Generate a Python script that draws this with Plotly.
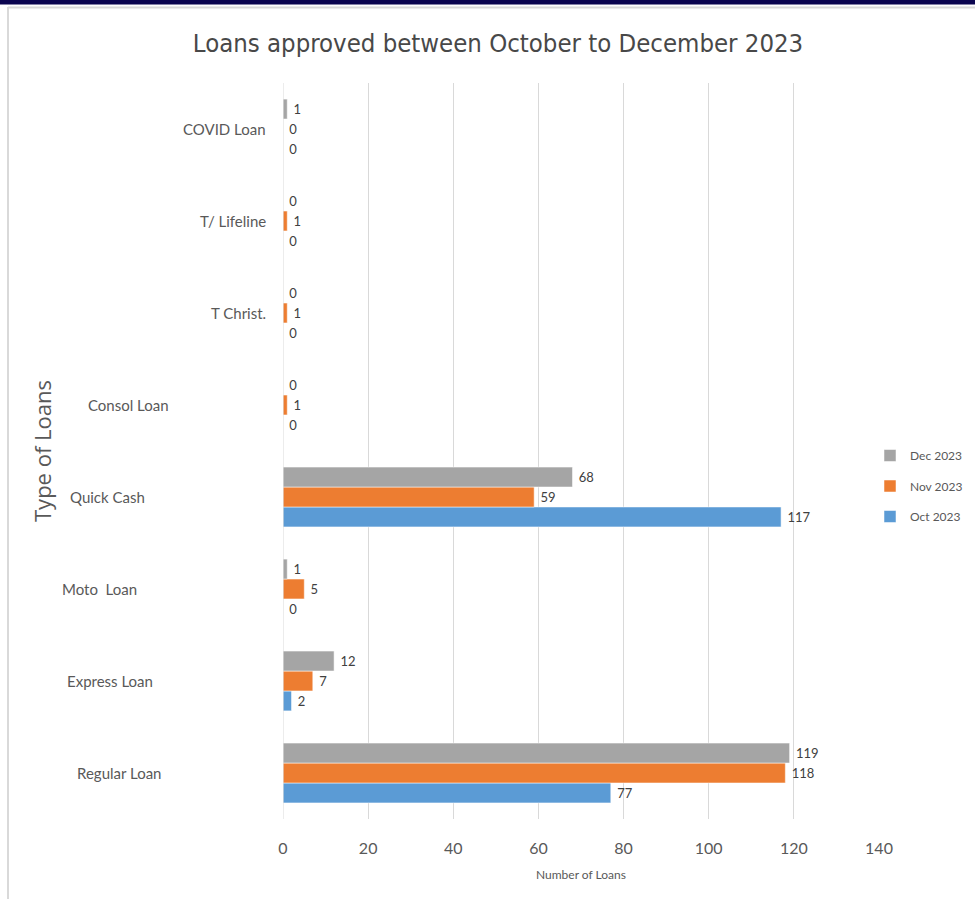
import plotly.graph_objects as go

categories = ["Regular Loan", "Express Loan", "Moto  Loan", "Quick Cash",
              "Consol Loan", "T Christ.", "T/ Lifeline", "COVID Loan"]
oct_2023 = [77, 2, 0, 117, 0, 0, 0, 0]
nov_2023 = [118, 7, 5, 59, 1, 1, 1, 0]
dec_2023 = [119, 12, 1, 68, 0, 0, 0, 1]
series_names = ["Oct 2023", "Nov 2023", "Dec 2023"]
x_ticks = [0, 20, 40, 60, 80, 100, 120, 140]

W, H = 975, 899
L, R, T, B = 283, 96, 83, 80
pw, ph = W - L - R, H - T - B

def px(x):
    return (x - L) / pw

def py(y):
    return (H - B - y) / ph

colors = ["#5B9BD5", "#ED7D31", "#A5A5A5"]
legend_ids = ["legend3", "legend2", "legend"]
legend_tops = [502, 471.5, 441]
label_font = "Lato, Carlito, sans-serif"

fig = go.Figure()
for i, (name, vals) in enumerate(zip(series_names, [oct_2023, nov_2023, dec_2023])):
    fig.add_trace(go.Bar(
        y=categories, x=vals, name=name, orientation="h",
        marker=dict(color=colors[i], line=dict(color="rgba(255,255,255,0.5)", width=1)),
        text=vals, texttemplate=" %{x}", textposition="outside",
        textfont=dict(size=13, color="#404040", family=label_font),
        cliponaxis=False, legend=legend_ids[i], showlegend=True,
    ))

# category label right edges (pixel) as in reference
label_right = {"COVID Loan": 267, "T/ Lifeline": 267, "T Christ.": 267,
               "Consol Loan": 170, "Quick Cash": 146, "Moto  Loan": 138,
               "Express Loan": 154, "Regular Loan": 162}
annotations = []
for c in categories:
    annotations.append(dict(x=px(label_right[c] + 1), xref="paper", y=c, yref="y",
                            text=c, showarrow=False, xanchor="right", yanchor="middle",
                            font=dict(size=15, color="#595959", family=label_font)))
annotations.append(dict(x=px(42), xref="paper", y=py(451), yref="paper",
                        text="Type of Loans", textangle=-90, showarrow=False,
                        xanchor="center", yanchor="middle",
                        font=dict(size=22, color="#595959", family="Open Sans, sans-serif")))

shapes = [
    dict(type="rect", xref="paper", yref="paper", x0=px(0), x1=px(W), y0=py(4.5), y1=py(-1),
         fillcolor="#0B0550", line=dict(width=0), layer="above"),
    dict(type="line", xref="paper", yref="paper", x0=px(8), x1=px(8), y0=py(7), y1=py(H + 2),
         line=dict(color="#D9D9D9", width=2)),
    dict(type="line", xref="paper", yref="paper", x0=px(8), x1=px(W + 2), y0=py(7.5), y1=py(7.5),
         line=dict(color="#D9D9D9", width=2)),
]

legend_style = dict(xanchor="left", yanchor="top", visible=True,
                    font=dict(size=12, color="#595959", family=label_font),
                    itemwidth=30, bgcolor="rgba(0,0,0,0)")

fig.update_layout(
    width=W, height=H, showlegend=True,
    margin=dict(l=L, r=R, t=T, b=B, autoexpand=False),
    paper_bgcolor="white", plot_bgcolor="white",
    barmode="group", bargap=0.35, bargroupgap=0,
    title=dict(text="Loans approved between October to December 2023",
               x=px(498), xanchor="center", xref="paper", y=1 - 43 / H, yanchor="middle",
               font=dict(size=25.5, color="#484848", family="DejaVu Sans Condensed, DejaVu Sans, sans-serif")),
    xaxis=dict(range=[0, 140], tickvals=x_ticks, showgrid=True, gridcolor="#D9D9D9", gridwidth=1,
               zeroline=False, showline=False, ticklabelstandoff=18,
               tickfont=dict(size=16, color="#595959", family=label_font),
               title=dict(text="Number of Loans", standoff=14,
                          font=dict(size=12, color="#595959", family=label_font))),
    yaxis=dict(showticklabels=False, showgrid=False, zeroline=False, showline=False,
               categoryorder="array", categoryarray=categories),
    annotations=annotations, shapes=shapes,
)
for lid, top in zip(legend_ids, legend_tops):
    fig.update_layout({lid: dict(x=px(870), y=py(top), **legend_style)})

# vertical axis line at zero
fig.add_shape(type="line", xref="x", yref="paper", x0=0, x1=0, y0=0, y1=1,
              line=dict(color="#D9D9D9", width=1))

fig.write_html("out.html")
